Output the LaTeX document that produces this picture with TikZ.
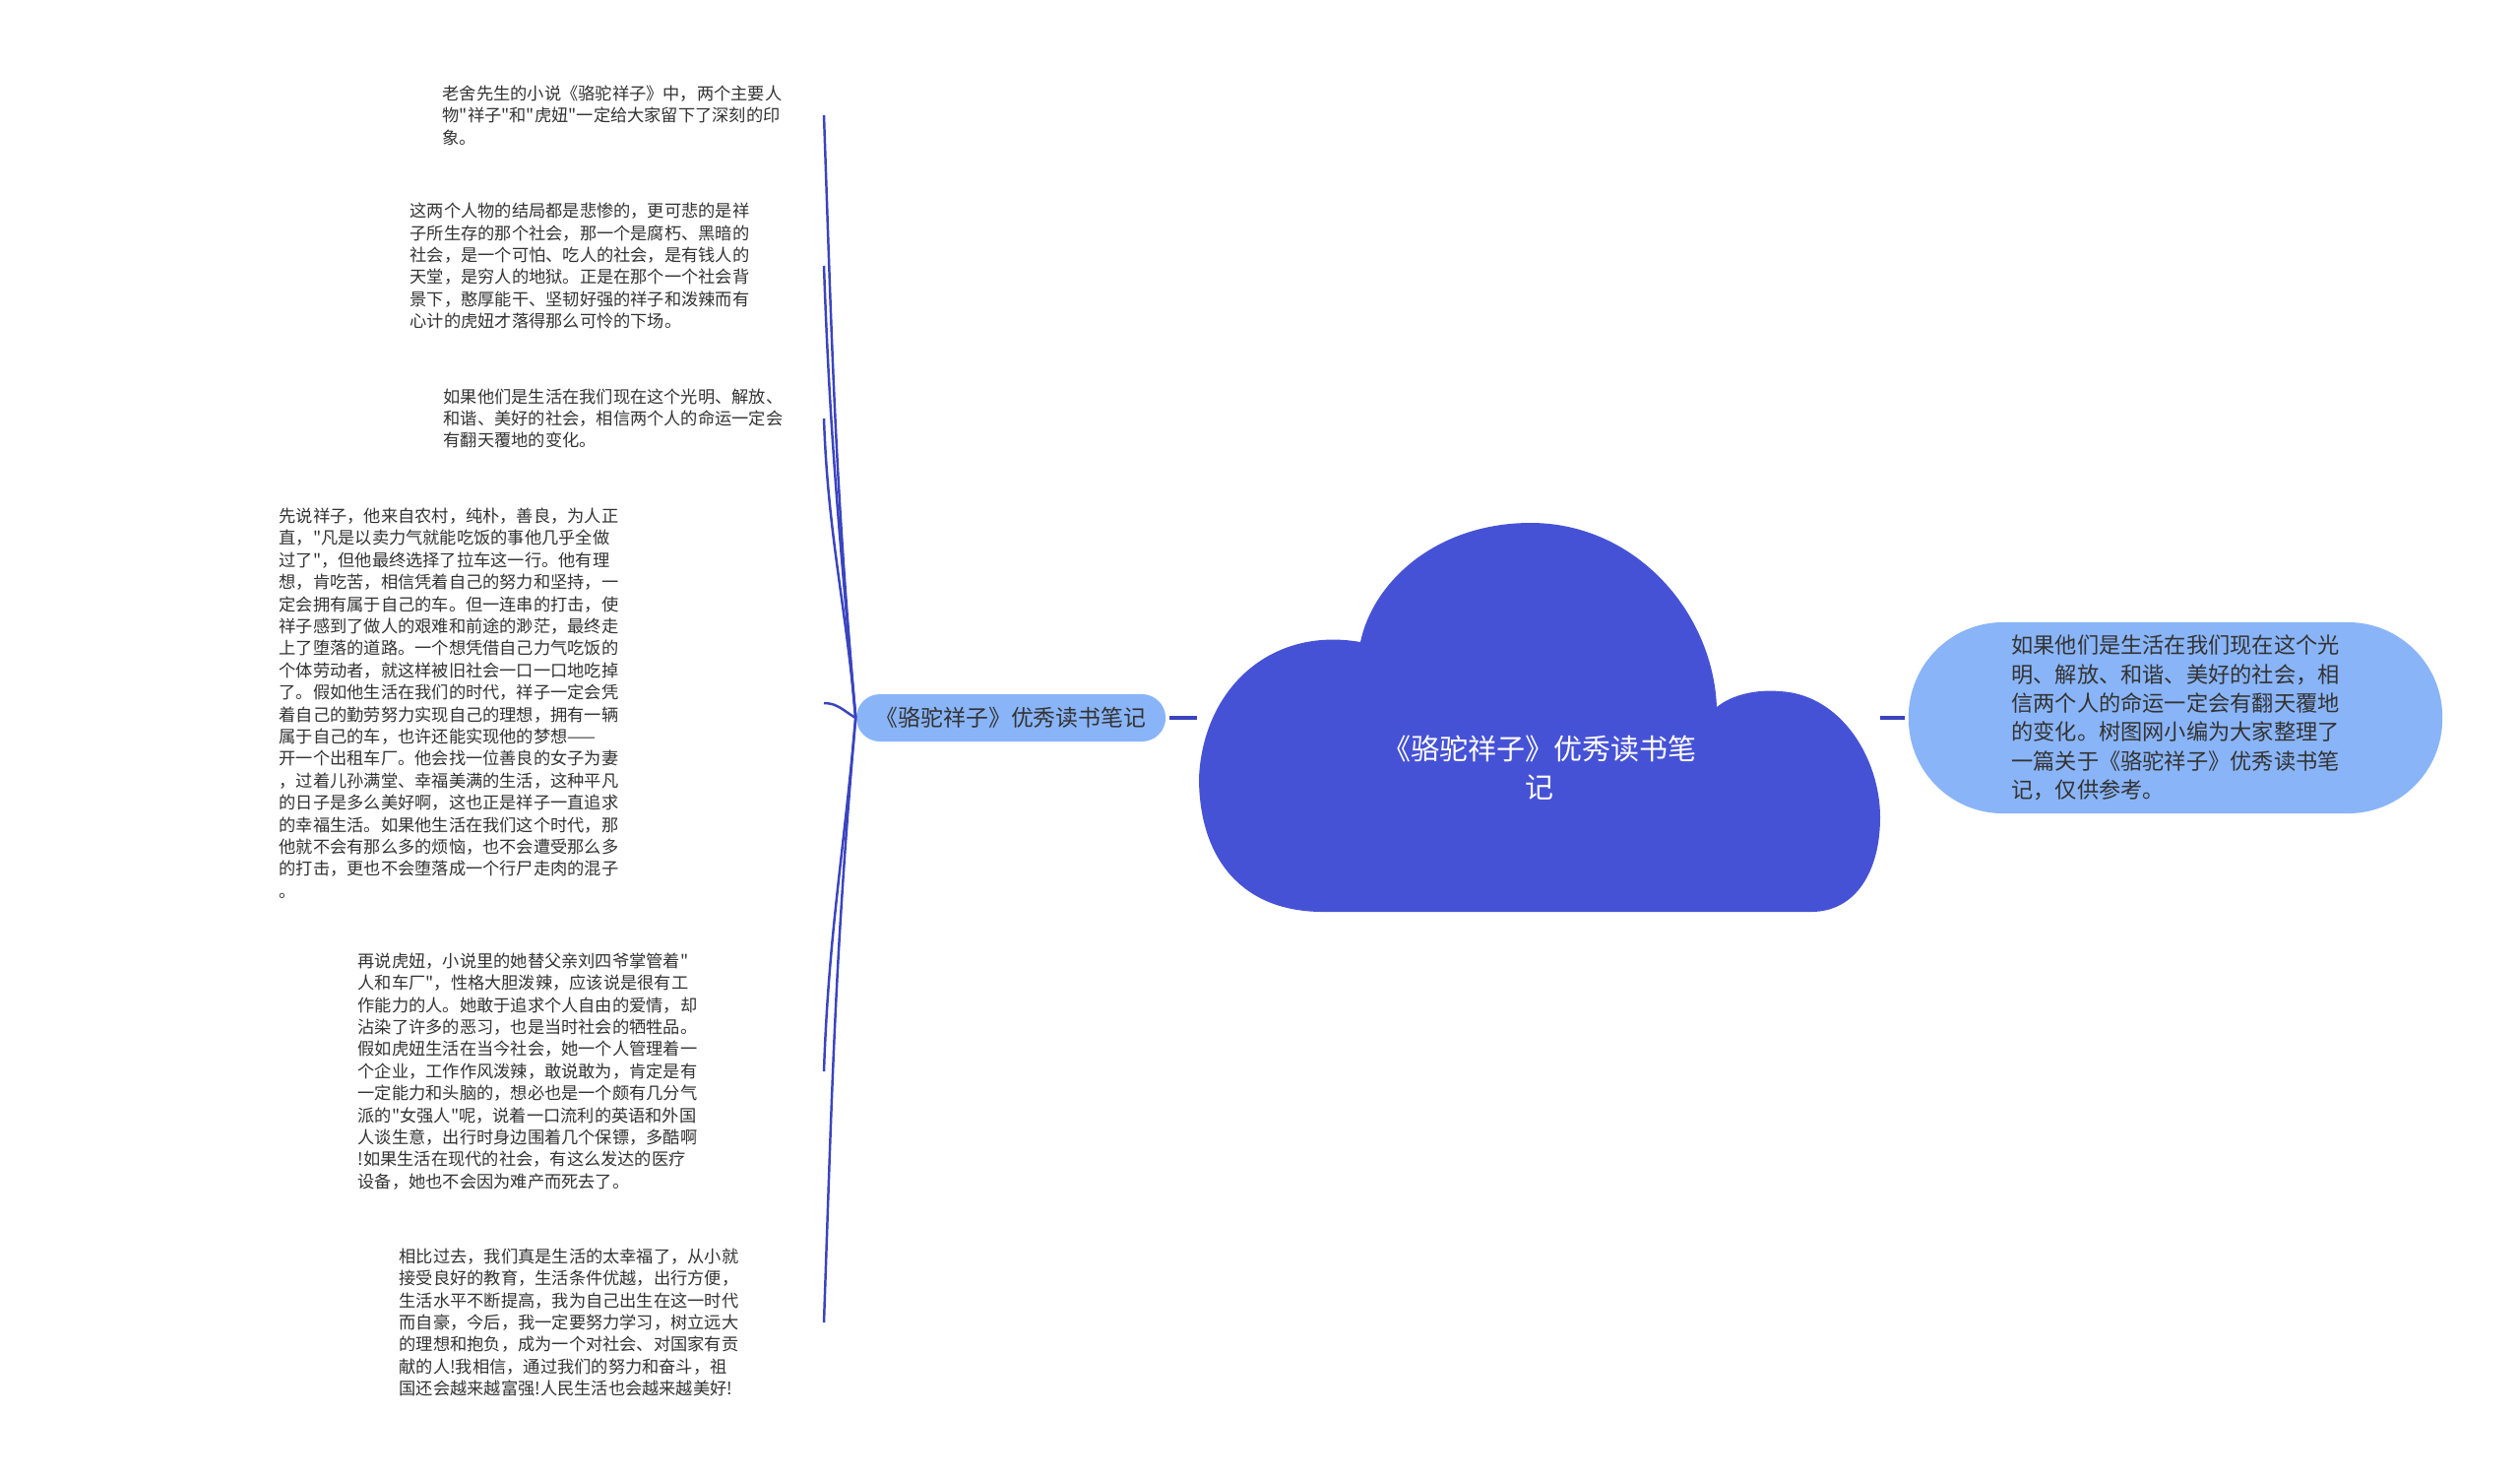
\documentclass[tikz,border=0pt]{standalone}
\usepackage{fontspec}
\setmainfont{Noto Sans CJK SC}[Ligatures=TeXOff]
\definecolor{cloudblue}{RGB}{70,82,214}
\definecolor{pillblue}{RGB}{137,180,248}
\definecolor{linkblue}{RGB}{58,68,192}
\definecolor{txtgray}{RGB}{51,51,51}
\tikzset{
  leaf/.style={anchor=west, inner sep=0pt, align=left, text=txtgray, font=\fontsize{4.9}{6.37}\selectfont},
  link/.style={draw=linkblue, line width=0.7pt},
  bar/.style={draw=linkblue, line width=1pt},
}
\begin{document}
\begin{tikzpicture}[x=0.01cm, y=-0.01cm]
\useasboundingbox (0,0) rectangle (2560,1502);
\fill[white] (0,0) rectangle (2560,1502);
\fill[cloudblue] (1344,926) .. controls (1260,926) and (1218,870) .. (1218,790)
  .. controls (1222,700) and (1290,636) .. (1382,652)
  .. controls (1395,590) and (1460,531) .. (1555,531)
  .. controls (1660,531) and (1740,620) .. (1744,718)
  .. controls (1760,705) and (1785,700) .. (1808,702)
  .. controls (1870,705) and (1910,770) .. (1910,830)
  .. controls (1910,885) and (1885,926) .. (1840,926) -- cycle;
\node[text=white, align=center, inner sep=0pt, font=\fontsize{8.25}{11.1}\selectfont] (root) at (1564,780) {《骆驼祥子》优秀读书笔\\记};
\coordinate (cl) at (1216,729);
\coordinate (cr) at (1910,729);
\node[fill=pillblue, rounded corners=0.24cm, minimum width=3.14cm, minimum height=0.48cm, inner sep=0pt, text=txtgray, font=\fontsize{6.5}{8}\selectfont] (branch) at (1027,729) {《骆驼祥子》优秀读书笔记};
\node[fill=pillblue, rounded corners=0.96cm, minimum width=5.42cm, minimum height=1.94cm, inner sep=0pt, align=left, text=txtgray, font=\fontsize{6.32}{8.37}\selectfont] (note) at (2210,729) {如果他们是生活在我们现在这个光\\
明、解放、和谐、美好的社会，相\\
信两个人的命运一定会有翻天覆地\\
的变化。树图网小编为大家整理了\\
一篇关于《骆驼祥子》优秀读书笔\\
记，仅供参考。};
\draw[bar, shorten <=0.03cm] (branch.east) -- (cl);
\draw[bar, shorten >=0.03cm] (cr) -- (note.west);
\node[leaf] (l1) at (449,117) {老舍先生的小说《骆驼祥子》中，两个主要人\\
物"祥子"和"虎妞"一定给大家留下了深刻的印\\
象。};
\node[leaf] (l2) at (416,270) {这两个人物的结局都是悲惨的，更可悲的是祥\\
子所生存的那个社会，那一个是腐朽、黑暗的\\
社会，是一个可怕、吃人的社会，是有钱人的\\
天堂，是穷人的地狱。正是在那个一个社会背\\
景下，憨厚能干、坚韧好强的祥子和泼辣而有\\
心计的虎妞才落得那么可怜的下场。};
\node[leaf] (l3) at (450,425) {如果他们是生活在我们现在这个光明、解放、\\
和谐、美好的社会，相信两个人的命运一定会\\
有翻天覆地的变化。};
\node[leaf] (l4) at (283,714) {先说祥子，他来自农村，纯朴，善良，为人正\\
直，"凡是以卖力气就能吃饭的事他几乎全做\\
过了"，但他最终选择了拉车这一行。他有理\\
想，肯吃苦，相信凭着自己的努力和坚持，一\\
定会拥有属于自己的车。但一连串的打击，使\\
祥子感到了做人的艰难和前途的渺茫，最终走\\
上了堕落的道路。一个想凭借自己力气吃饭的\\
个体劳动者，就这样被旧社会一口一口地吃掉\\
了。假如他生活在我们的时代，祥子一定会凭\\
着自己的勤劳努力实现自己的理想，拥有一辆\\
属于自己的车，也许还能实现他的梦想——\\
开一个出租车厂。他会找一位善良的女子为妻\\
，过着儿孙满堂、幸福美满的生活，这种平凡\\
的日子是多么美好啊，这也正是祥子一直追求\\
的幸福生活。如果他生活在我们这个时代，那\\
他就不会有那么多的烦恼，也不会遭受那么多\\
的打击，更也不会堕落成一个行尸走肉的混子\\
。};
\node[leaf] (l5) at (363,1088) {再说虎妞，小说里的她替父亲刘四爷掌管着"\\
人和车厂"，性格大胆泼辣，应该说是很有工\\
作能力的人。她敢于追求个人自由的爱情，却\\
沾染了许多的恶习，也是当时社会的牺牲品。\\
假如虎妞生活在当今社会，她一个人管理着一\\
个企业，工作作风泼辣，敢说敢为，肯定是有\\
一定能力和头脑的，想必也是一个颇有几分气\\
派的"女强人"呢，说着一口流利的英语和外国\\
人谈生意，出行时身边围着几个保镖，多酷啊\\
!如果生活在现代的社会，有这么发达的医疗\\
设备，她也不会因为难产而死去了。};
\node[leaf] (l6) at (405,1343) {相比过去，我们真是生活的太幸福了，从小就\\
接受良好的教育，生活条件优越，出行方便，\\
生活水平不断提高，我为自己出生在这一时代\\
而自豪，今后，我一定要努力学习，树立远大\\
的理想和抱负，成为一个对社会、对国家有贡\\
献的人!我相信，通过我们的努力和奋斗，祖\\
国还会越来越富强!人民生活也会越来越美好!};
\coordinate (tip) at (837,729);
\foreach \n in {1,2,3}
  \draw[link] (branch.west) to[out=95, in=-88] (l\n.west -| tip);
\draw[link] (branch.west) to[out=150, in=0] (l4.west -| tip);
\foreach \n in {5,6}
  \draw[link] (branch.west) to[out=-95, in=88] (l\n.west -| tip);
\end{tikzpicture}
\end{document}
